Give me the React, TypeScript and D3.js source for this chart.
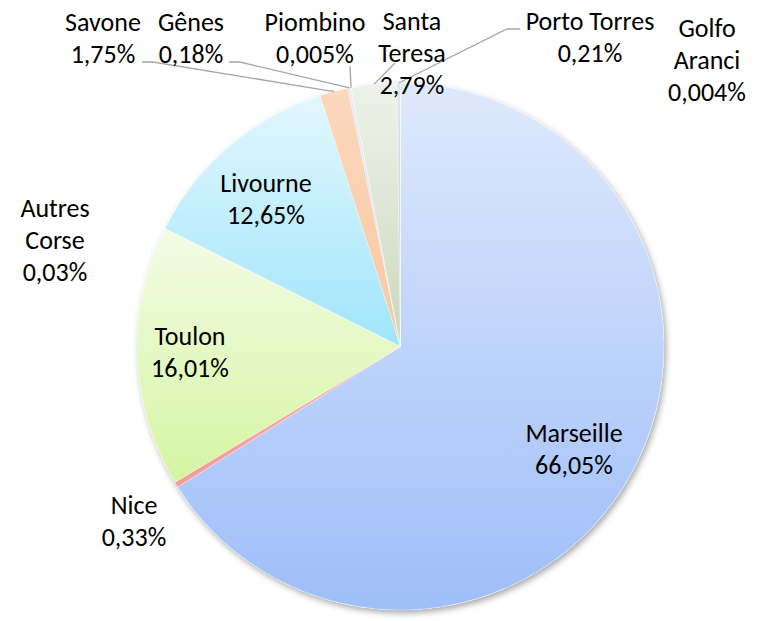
import React from "react";
import * as d3 from "d3";

const categories = ["Marseille", "Nice", "Toulon", "Autres Corse", "Livourne", "Savone", "Gênes", "Piombino", "Santa Teresa", "Porto Torres", "Golfo Aranci"];
const values = [66.05, 0.33, 16.01, 0.03, 12.65, 1.75, 0.18, 0.005, 2.79, 0.21, 0.004];
const topColors = ["#dfe9fc", "#fbb0b0", "#f3fce6", "#efe6fb", "#e3f7fd", "#fcd8bd", "#e6edf7", "#eeeeee", "#eef2ea", "#e4e4ee", "#fbe8d8"];
const bottomColors = ["#9ebef9", "#f79a9a", "#d5f5a2", "#d8c8f0", "#9fe5fc", "#f8c8a4", "#c8d6ec", "#cccccc", "#ccd8bd", "#c8c8da", "#f0c8a8"];

const labelLines: string[][] = [
  ["Marseille"], ["Nice"], ["Toulon"], ["Autres", "Corse"], ["Livourne"], ["Savone"], ["Gênes"], ["Piombino"], ["Santa", "Teresa"], ["Porto Torres"], ["Golfo", "Aranci"],
];
const labelX = [574, 134, 190, 55, 266, 103, 191, 315, 412, 590, 707];
const labelY = [442, 514, 345, 217, 192, 31, 31, 31, 30, 30, 37];
const lineGap = 32;
const leaders: (number[] | null)[] = [
  null, null, null, null, null,
  [142, 62, 153, 62],
  [229, 62, 240, 62],
  [350, 66, 350, 66],
  [395, 63, 395, 63],
  [520, 29, 507, 29],
  null,
];

const W = 763, H = 621;
const cx = 400.5, cy = 346.5, R = 263.5;

function fmt(v: number) {
  return String(v).replace(".", ",") + "%";
}

export default function App() {
  const pie = d3.pie<number>().sort(null).value((d) => d);
  const arcs = pie(values);
  const arc = d3.arc<d3.PieArcDatum<number>>().innerRadius(0).outerRadius(R);
  const font = "Carlito, Lato, 'Open Sans', sans-serif";

  return (
    <svg width={W} height={H} style={{ position: "absolute", left: 0, top: 0, background: "#fff" }}>
      <defs>
        {values.map((_, i) => (
          <linearGradient key={i} id={`g${i}`} x1="0" y1="0" x2="0" y2="1">
            <stop offset="0" stopColor={topColors[i]} />
            <stop offset="1" stopColor={bottomColors[i]} />
          </linearGradient>
        ))}
        <filter id="shadow" x="-10%" y="-10%" width="120%" height="120%">
          <feDropShadow dx="2" dy="3" stdDeviation="3" floodColor="#000" floodOpacity="0.35" />
        </filter>
      </defs>
      <g transform={`translate(${cx},${cy})`}>
        <g filter="url(#shadow)">
          <circle r={R} fill="#fff" />
        </g>
        {arcs.map((a, i) => (
          <path key={i} d={arc(a) || ""} fill={`url(#g${i})`} stroke="#ffffff" strokeOpacity={0.5} strokeWidth={0.6} />
        ))}
      </g>
      {arcs.map((a, i) => {
        const l = leaders[i];
        if (!l) return null;
        const mid = (a.startAngle + a.endAngle) / 2;
        const ex = cx + R * Math.sin(mid);
        const ey = cy - R * Math.cos(mid);
        const pts = [[l[0], l[1]], [l[2], l[3]], [ex, ey]];
        return (
          <polyline key={"l" + i} points={pts.map((p) => p.join(",")).join(" ")} fill="none" stroke="#a6a6a6" strokeWidth={1.3} />
        );
      })}
      {categories.map((c, i) => {
        const lines = [...labelLines[i], fmt(values[i])];
        return (
          <text key={"t" + i} x={labelX[i]} y={labelY[i]} textAnchor="middle" fontFamily={font} fontSize={26} fill="#000">
            {lines.map((s, k) => (
              <tspan key={k} x={labelX[i]} y={labelY[i] + k * lineGap}>{s}</tspan>
            ))}
          </text>
        );
      })}
    </svg>
  );
}
